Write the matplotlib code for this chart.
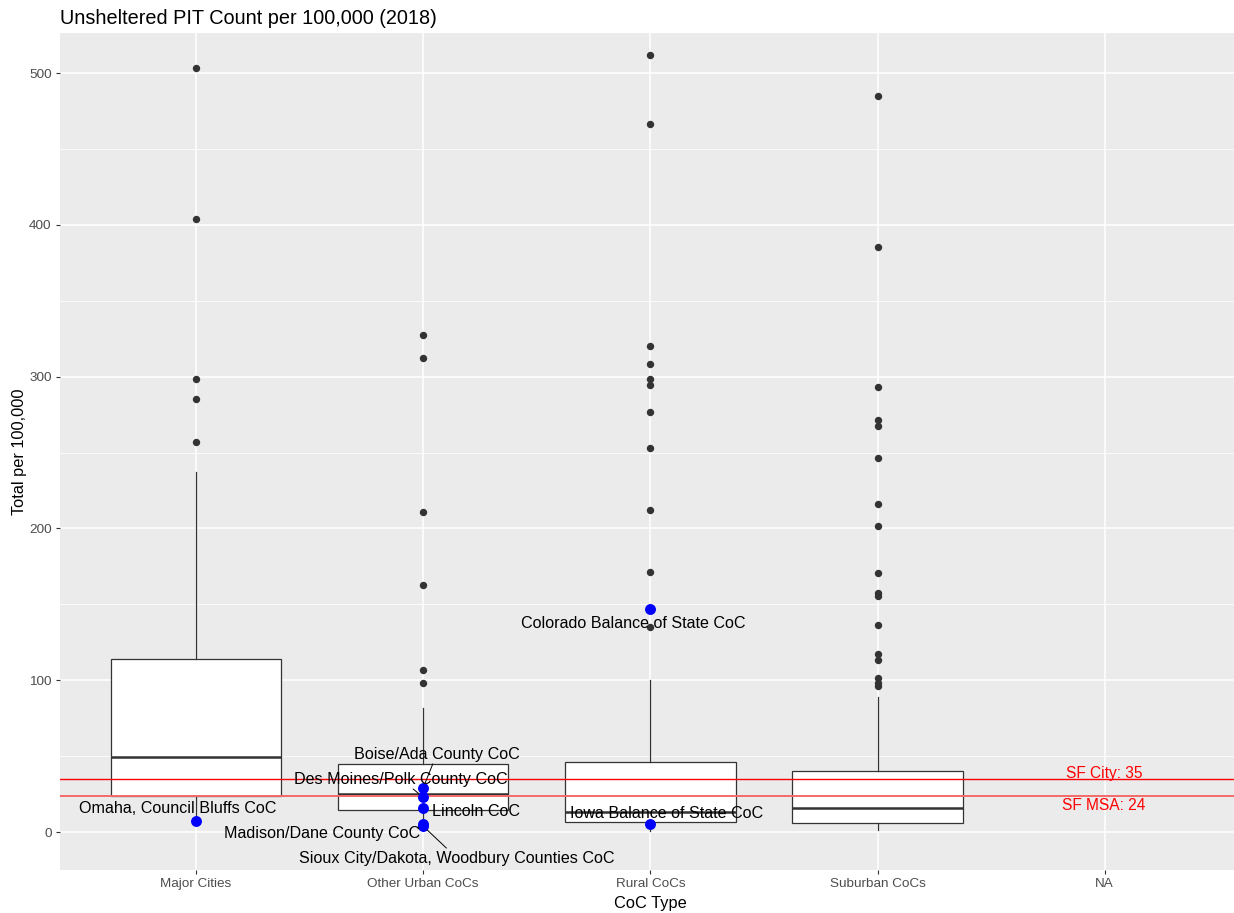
import matplotlib
matplotlib.use("Agg")
import matplotlib.pyplot as plt
from matplotlib import font_manager

plt.rcParams['font.family'] = ['Liberation Sans', 'DejaVu Sans']

# Categories on the x axis (NA is an empty level)
categories = ["Major Cities", "Other Urban CoCs", "Rural CoCs", "Suburban CoCs", "NA"]

# Box statistics (per 100,000)
box_whislo = [7.2, 4.0, 1.0, 1.3]
box_q1 = [24.0, 14.5, 6.4, 5.7]
box_med = [49.6, 24.8, 13.4, 15.8]
box_q3 = [114.0, 44.8, 46.3, 40.4]
box_whishi = [237.4, 81.7, 100.1, 88.7]

# Outliers
major_out = [503.5, 404.0, 298.2, 285.0, 256.7]
other_out = [327.4, 312.0, 210.6, 162.5, 106.7, 98.0]
rural_out = [511.6, 466.6, 320.2, 308.5, 298.4, 294.5, 276.5, 252.8,
             211.9, 171.3, 147.2, 134.8]
suburban_out = [484.8, 385.4, 293.2, 271.4, 267.7, 246.7, 216.3, 201.8,
                170.4, 157.2, 155.5, 136.4, 117.1, 113.3, 101.7, 98.0, 96.2]
outliers = [major_out, other_out, rural_out, suburban_out]

# Highlighted CoCs
hl_names = ["Omaha, Council Bluffs CoC", "Boise/Ada County CoC",
            "Des Moines/Polk County CoC", "Lincoln CoC",
            "Madison/Dane County CoC",
            "Sioux City/Dakota, Woodbury Counties CoC",
            "Colorado Balance of State CoC", "Iowa Balance of State CoC"]
hl_cat = [0, 1, 1, 1, 1, 1, 2, 2]
hl_values = [7.2, 29.0, 23.0, 15.8, 5.0, 3.9, 147.2, 5.0]

# Reference lines
ref_names = ["SF City", "SF MSA"]
ref_values = [35, 24]

# label placement (repel-style, data units) and whether a leader line is drawn
label_pos = [(0.921, 15.8), (2.06, 51.4), (1.902, 34.9), (2.232, 13.8),
             (1.554, -0.7), (2.149, -17.1), (2.927, 137.7), (3.073, 11.9)]
label_seg = [False, True, True, False, False, True, False, False]

# narrow face for the red reference labels if one is around
narrow = 'Liberation Sans'
for cand in ['Liberation Sans Narrow', 'Arial Narrow']:
    try:
        font_manager.findfont(cand, fallback_to_default=False)
        narrow = cand
        break
    except Exception:
        pass

fig = plt.figure(figsize=(12.34, 9.13), dpi=100)
ax = fig.add_axes([0.0483, 0.0471, 0.9574, 0.9168])
ax.set_facecolor('#EBEBEB')
for s in ax.spines.values():
    s.set_visible(False)

positions = list(range(1, len(categories) + 1))
stats = []
for i in range(len(box_med)):
    stats.append(dict(whislo=box_whislo[i], q1=box_q1[i], med=box_med[i],
                      q3=box_q3[i], whishi=box_whishi[i], fliers=outliers[i]))

ax.bxp(stats, positions=positions[:4], widths=0.75, patch_artist=True,
       showcaps=False, showfliers=True,
       boxprops=dict(facecolor='white', edgecolor='#333333', linewidth=0.9),
       whiskerprops=dict(color='#333333', linewidth=0.9),
       medianprops=dict(color='#333333', linewidth=1.8),
       flierprops=dict(marker='o', markerfacecolor='#333333',
                       markeredgecolor='#333333', markersize=4.3),
       zorder=3)

# reference lines
ax.axhline(ref_values[0], color='#ff0000', linewidth=1.0, zorder=4)
ax.axhline(ref_values[1], color='#f46a6a', linewidth=1.4, zorder=4)
fs_ref = 12 if narrow != 'Liberation Sans' else 11.2
for name, v, dy in zip(ref_names, ref_values, [3.8, -6.6]):
    ax.text(positions[-1] - 0.004, v + dy, f"{name}: {v}", color='#ff0000',
            fontsize=fs_ref, ha='center', va='center',
            family=[narrow, 'DejaVu Sans'], zorder=6)

# highlighted points
hl_x = [positions[c] for c in hl_cat]
ax.scatter(hl_x, hl_values, s=62, color='#0000ff', zorder=5, linewidths=0)

for name, x, y, (lx, ly), seg in zip(hl_names, hl_x, hl_values, label_pos, label_seg):
    if seg:
        ax.annotate(name, xy=(x, y), xytext=(lx, ly), fontsize=11.6,
                    ha='center', va='center', color='black', zorder=6,
                    bbox=dict(boxstyle='square,pad=0.15', fc='none', ec='none'),
                    arrowprops=dict(arrowstyle='-', color='black', lw=0.7,
                                    shrinkA=0, shrinkB=4))
    else:
        ax.text(lx, ly, name, fontsize=11.6, ha='center', va='center',
                color='black', zorder=6)

ax.set_xlim(0.4, 5.6)
ax.set_ylim(-25.0, 526.4)
ax.set_xticks(positions)
ax.set_xticklabels(categories)
ax.set_yticks([0, 100, 200, 300, 400, 500])
ax.set_yticks([50, 150, 250, 350, 450], minor=True)
ax.grid(True, which='major', color='white', linewidth=1.1, zorder=0)
ax.grid(True, which='minor', axis='y', color='white', linewidth=0.55, zorder=0)
ax.set_axisbelow(True)
ax.tick_params(which='major', length=2.75, width=0.8, color='#333333',
               labelcolor='#4D4D4D', labelsize=9.7, pad=3)
ax.tick_params(which='minor', length=0)

fig.text(0.0486, 0.980, "Unsheltered PIT Count per 100,000 (2018)",
         fontsize=14.3, ha='left', va='center', color='black')
fig.text(0.527, 0.0099, "CoC Type", fontsize=11.8, ha='center', va='center')
fig.text(0.0154, 0.505, "Total per 100,000", fontsize=11.8, rotation=90,
         ha='center', va='center')

fig.savefig("out.png", dpi=100)
